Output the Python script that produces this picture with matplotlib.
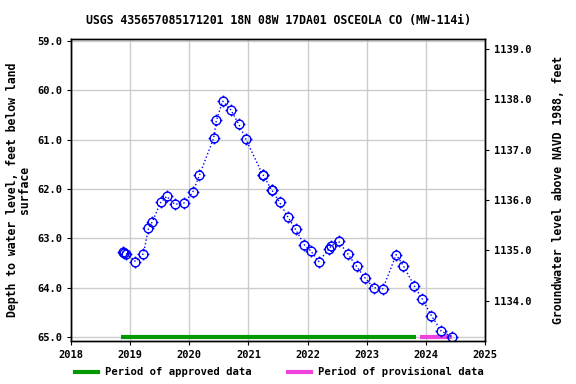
import matplotlib
matplotlib.use("Agg")
import matplotlib.pyplot as plt
import numpy as np
from matplotlib.path import Path

# measurement dates (decimal years) and depth to water (ft below land surface)
dates = [2018.875, 2018.904, 2018.932, 2019.090, 2019.225, 2019.309, 2019.377,
         2019.517, 2019.618, 2019.753, 2019.905, 2020.057, 2020.171, 2020.412,
         2020.458, 2020.564, 2020.699, 2020.834, 2020.953, 2021.240, 2021.250,
         2021.392, 2021.400, 2021.527, 2021.662, 2021.797, 2021.944, 2022.051,
         2022.186, 2022.367, 2022.395, 2022.524, 2022.676, 2022.828, 2022.970,
         2023.115, 2023.274, 2023.498, 2023.622, 2023.802, 2023.943, 2024.095,
         2024.260, 2024.446]
depth = [63.27, 63.29, 63.31, 63.47, 63.31, 62.80, 62.66,
         62.27, 62.15, 62.31, 62.29, 62.07, 61.72, 60.97,
         60.61, 60.22, 60.39, 60.68, 60.98, 61.71, 61.72,
         62.02, 62.03, 62.27, 62.56, 62.82, 63.13, 63.25,
         63.47, 63.21, 63.16, 63.06, 63.31, 63.57, 63.80,
         64.00, 64.02, 63.33, 63.56, 63.96, 64.24, 64.57,
         64.88, 65.00]

approved = (2018.845, 2023.831)
provisional = (2023.904, 2024.445)

x_ticks = [2018, 2019, 2020, 2021, 2022, 2023, 2024, 2025]
y_ticks = [59.0, 60.0, 61.0, 62.0, 63.0, 64.0, 65.0]
elev_ticks = [1134.0, 1135.0, 1136.0, 1137.0, 1138.0, 1139.0]

title = "USGS 435657085171201 18N 08W 17DA01 OSCEOLA CO (MW-114i)"

mono = "DejaVu Sans Mono"
green = "#009900"
pink = "#ee44dd"

# circle marker with four little ticks sticking out
circ = Path.unit_circle()
ticks = []
for dx, dy in [(1, 0), (-1, 0), (0, 1), (0, -1)]:
    ticks.append(Path([(dx * 1.0, dy * 1.0), (dx * 1.35, dy * 1.35)],
                      [Path.MOVETO, Path.LINETO]))
gear = Path.make_compound_path(circ, *ticks)

fig = plt.figure(figsize=(5.76, 3.84), dpi=100)
ax = fig.add_axes([0.1233, 0.1128, 0.7187, 0.7849])

ax.plot(dates, depth, color="blue", linestyle=":", linewidth=1)
ax.plot(dates, depth, linestyle="none", marker=gear, markersize=8.5,
        markerfacecolor="none", markeredgecolor="blue", markeredgewidth=1)

ax.plot(approved, [65.0, 65.0], color=green, linewidth=3, solid_capstyle="butt",
        clip_on=False, zorder=1)
ax.plot(provisional, [65.0, 65.0], color=pink, linewidth=3, solid_capstyle="butt",
        clip_on=False, zorder=1)

ax.set_xlim(2018, 2025)
ax.set_ylim(65.075, 58.965)
ax.set_xticks(x_ticks)
ax.set_yticks(y_ticks)
ax.set_xticklabels([str(t) for t in x_ticks])
ax.set_yticklabels(["%.1f" % t for t in y_ticks])
ax.grid(True, color="#cccccc", linewidth=1)
ax.set_axisbelow(True)
ax.tick_params(direction="out", length=3, labelsize=7.5)
for lab in ax.get_xticklabels() + ax.get_yticklabels():
    lab.set_fontfamily(mono)
    lab.set_fontweight("bold")

ax.set_ylabel("Depth to water level, feet below land\nsurface", fontfamily=mono,
              fontweight="bold", fontsize=8.3, linespacing=0.95, labelpad=4)
ax.set_title(title, fontfamily=mono, fontweight="bold", fontsize=8.3, pad=11)

ax2 = ax.twinx()
ax2.set_ylim(1133.21, 1139.19)
ax2.set_yticks(elev_ticks)
ax2.set_yticklabels(["%.1f" % t for t in elev_ticks])
ax2.tick_params(direction="out", length=3, labelsize=7.5)
for lab in ax2.get_yticklabels():
    lab.set_fontfamily(mono)
    lab.set_fontweight("bold")
ax2.set_ylabel("Groundwater level above NAVD 1988, feet", fontfamily=mono,
               fontweight="bold", fontsize=8.3, labelpad=15)

for a in (ax, ax2):
    for s in a.spines.values():
        s.set_linewidth(1)

h1, = ax.plot([], [], color=green, linewidth=3)
h2, = ax.plot([], [], color=pink, linewidth=3)
fig.legend([h1, h2], ["Period of approved data", "Period of provisional data"],
           loc="center", bbox_to_anchor=(0.485, 0.03), ncol=2, frameon=False,
           prop={"family": mono, "weight": "bold", "size": 7.6},
           handlelength=2.2, columnspacing=3.5, handletextpad=0.6)

fig.savefig("out.png", dpi=100)
